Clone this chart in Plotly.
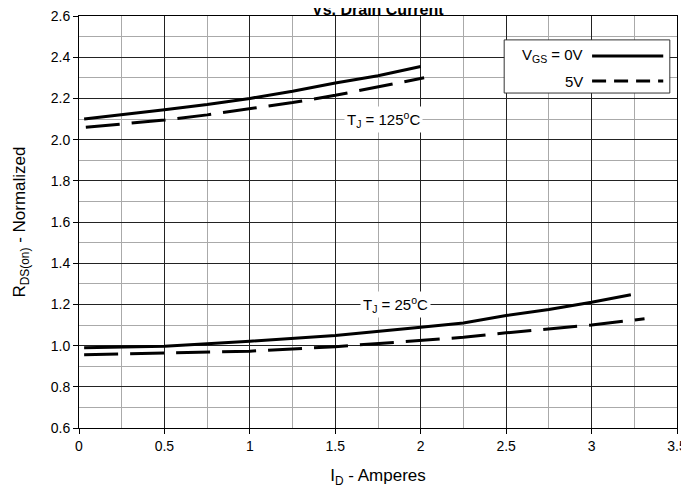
import plotly.graph_objects as go

# 125 C curves
x125_0v = [0.03, 0.25, 0.5, 0.75, 1.0, 1.25, 1.5, 1.75, 2.0]
y125_0v = [2.10, 2.12, 2.145, 2.17, 2.20, 2.235, 2.275, 2.31, 2.355]
x125_5v = [0.04, 0.25, 0.5, 0.75, 1.0, 1.25, 1.5, 1.75, 2.02]
y125_5v = [2.06, 2.075, 2.095, 2.12, 2.15, 2.18, 2.215, 2.255, 2.30]

# 25 C curves
x25_0v = [0.03, 0.5, 1.0, 1.5, 2.0, 2.25, 2.5, 2.75, 3.0, 3.23]
y25_0v = [0.99, 0.997, 1.021, 1.049, 1.089, 1.11, 1.146, 1.175, 1.21, 1.247]
x25_5v = [0.03, 0.5, 1.0, 1.5, 2.0, 2.25, 2.5, 2.75, 3.0, 3.31]
y25_5v = [0.956, 0.965, 0.973, 0.995, 1.024, 1.04, 1.062, 1.081, 1.10, 1.13]

x_ticks = [0, 0.5, 1, 1.5, 2, 2.5, 3, 3.5]
x_tick_labels = ["0", "0.5", "1", "1.5", "2", "2.5", "3", "3.5"]
y_ticks = [0.6, 0.8, 1.0, 1.2, 1.4, 1.6, 1.8, 2.0, 2.2, 2.4, 2.6]
y_tick_labels = ["0.6", "0.8", "1.0", "1.2", "1.4", "1.6", "1.8", "2.0", "2.2", "2.4", "2.6"]

FONT = "Liberation Sans, Arial, Helvetica, sans-serif"
solid = dict(color="black", width=3)
dashed = dict(color="black", width=3, dash="34px,12px")

fig = go.Figure()
fig.add_trace(go.Scatter(x=x125_0v, y=y125_0v, mode="lines", line=solid, showlegend=False))
fig.add_trace(go.Scatter(x=x125_5v, y=y125_5v, mode="lines", line=dashed, showlegend=False))
fig.add_trace(go.Scatter(x=x25_0v, y=y25_0v, mode="lines", line=solid, showlegend=False))
fig.add_trace(go.Scatter(x=x25_5v, y=y25_5v, mode="lines", line=dashed, showlegend=False))

# Curve labels
fig.add_annotation(x=1.785, y=2.1, text="T<sub>J</sub> = 125<sup>o</sup>C", showarrow=False,
                   bgcolor="white", font=dict(family=FONT, size=15, color="black"), borderpad=2)
fig.add_annotation(x=1.855, y=1.2, text="T<sub>J</sub> = 25<sup>o</sup>C", showarrow=False,
                   bgcolor="white", font=dict(family=FONT, size=15, color="black"), borderpad=2)

# Title (partially cut at top)
fig.add_annotation(x=0.5, y=1, xref="paper", yref="paper", yanchor="middle", yshift=7,
                   text="<b>Vs. Drain Current</b>", showarrow=False,
                   font=dict(family=FONT, size=16, color="black"))

# Custom legend
fig.add_shape(type="rect", xref="paper", yref="paper", x0=0.711, x1=0.988, y0=0.813, y1=0.942,
              fillcolor="white", line=dict(color="#333333", width=1), layer="above")
fig.add_shape(type="line", xref="paper", yref="paper", x0=0.858, x1=0.977, y0=0.903, y1=0.903,
              line=dict(color="black", width=3), layer="above")
fig.add_shape(type="line", xref="paper", yref="paper", x0=0.858, x1=0.977, y0=0.842, y1=0.842,
              line=dict(color="black", width=3, dash="14px,8px"), layer="above")
fig.add_annotation(x=0.846, y=0.903, xref="paper", yref="paper", xanchor="right", yanchor="middle",
                   text="V<sub>GS</sub> = 0V", showarrow=False,
                   font=dict(family=FONT, size=15, color="black"))
fig.add_annotation(x=0.846, y=0.842, xref="paper", yref="paper", xanchor="right", yanchor="middle",
                   text="5V", showarrow=False,
                   font=dict(family=FONT, size=15, color="black"))

fig.update_layout(
    width=681, height=483,
    margin=dict(l=71, r=12, t=8, b=63, autoexpand=False),
    plot_bgcolor="white", paper_bgcolor="white",
    font=dict(family=FONT, size=14, color="black"),
    showlegend=False,
)
fig.update_xaxes(
    range=[0, 3.5], tickvals=x_ticks, ticktext=x_tick_labels,
    showgrid=True, gridcolor="#222222", gridwidth=1,
    minor=dict(dtick=0.25, showgrid=True, gridcolor="#aaaaaa", gridwidth=1),
    showline=True, linecolor="black", linewidth=1, mirror=True,
    ticks="outside", ticklen=5, tickcolor="black", zeroline=False, automargin=False,
    tickfont=dict(family=FONT, size=14), ticklabeloverflow="allow",
    title=dict(text="I<sub>D</sub> - Amperes", font=dict(family=FONT, size=17), standoff=16),
)
fig.update_yaxes(
    range=[0.6, 2.6], tickvals=y_ticks, ticktext=y_tick_labels,
    showgrid=True, gridcolor="#222222", gridwidth=1,
    minor=dict(dtick=0.1, showgrid=True, gridcolor="#aaaaaa", gridwidth=1),
    showline=True, linecolor="black", linewidth=1, mirror=True,
    ticks="outside", ticklen=5, tickcolor="black", zeroline=False, automargin=False,
    tickfont=dict(family=FONT, size=14), ticklabeloverflow="allow",
    title=dict(text="R<sub>DS(on)</sub> - Normalized", font=dict(family=FONT, size=17), standoff=20),
)

fig.write_html("out.html")
